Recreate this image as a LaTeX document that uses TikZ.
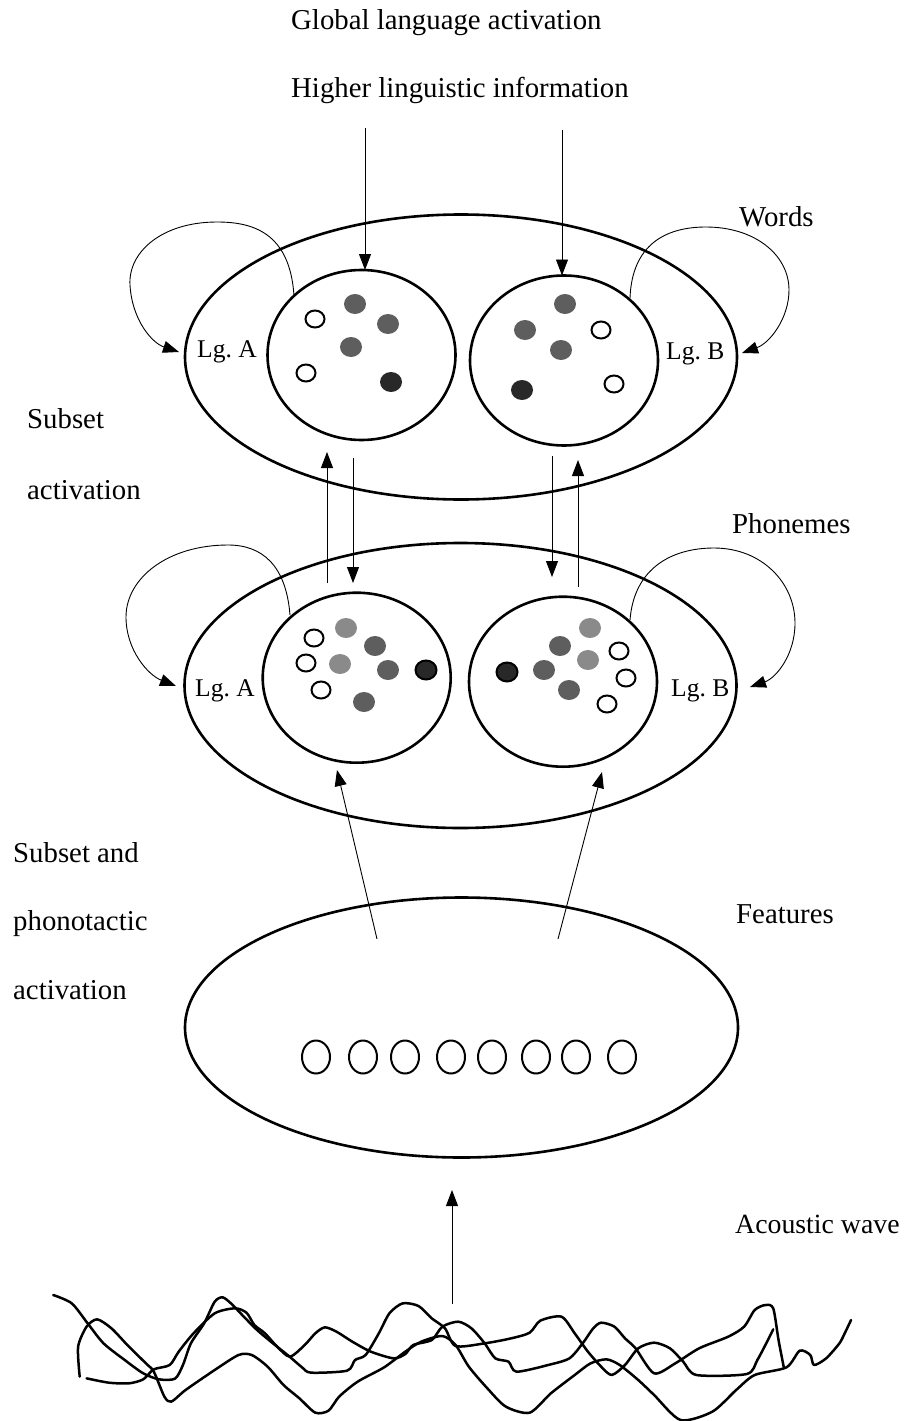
\documentclass[tikz,border=0pt]{standalone}
\usepackage{fontspec}
\setmainfont{Liberation Serif}
\usetikzlibrary{arrows.meta,shapes.geometric}

\begin{document}
\begin{tikzpicture}[x=1pt,y=-1pt,
  layer/.style={draw, ellipse, line width=2.6pt, inner sep=0pt, outer sep=0pt,
                minimum width=552pt, minimum height=285pt},
  pool/.style={draw, ellipse, line width=2.6pt, inner sep=0pt, outer sep=0pt,
               minimum width=188pt, minimum height=170pt},
  unitw/.style={draw, fill=white, ellipse, line width=2pt, inner sep=0pt,
                minimum width=19pt, minimum height=17pt},
  unitm/.style={fill=midgray, ellipse, inner sep=0pt, minimum width=22pt, minimum height=20pt},
  unitl/.style={fill=lightgray2, ellipse, inner sep=0pt, minimum width=22pt, minimum height=20pt},
  unitk/.style={fill=darkgray2, ellipse, inner sep=0pt, minimum width=22pt, minimum height=20pt},
  unito/.style={draw, fill=darkgray2, line width=2pt, ellipse, inner sep=0pt,
                minimum width=21pt, minimum height=19pt},
  featunit/.style={draw, ellipse, line width=2pt, inner sep=0pt,
                   minimum width=28pt, minimum height=33pt},
  arr/.style={-{Triangle[length=16pt,width=12pt]}, line width=0.9pt},
  loopline/.style={-{Triangle[length=16pt,width=12pt]}, line width=0.9pt},
  lab/.style={font=\fontsize{28.8}{34}\selectfont, anchor=base west, inner sep=0pt},
  lg/.style={font=\fontsize{25.5}{30}\selectfont, anchor=base west, inner sep=0pt},
  wave/.style={line width=2.5pt, line join=round, line cap=round},
]
\definecolor{midgray}{HTML}{5E5E5E}
\definecolor{lightgray2}{HTML}{8A8A8A}
\definecolor{darkgray2}{HTML}{282828}

\useasboundingbox (0,0) rectangle (905,1421);

% ---- labels ----
\node[lab] (glob)  at (291,30)  {Global language activation};
\node[lab] (high)  at (291,97)  {Higher linguistic information};
\node[lab] (wlab)  at (739,226) {Words};
\node[lab] (sub1)  at (27,428)  {Subset};
\node[lab] (sub2)  at (27,499)  {activation};
\node[lab] (plab)  at (732,533) {Phonemes};
\node[lab] (sa1)   at (13,862)  {Subset and};
\node[lab] (sa2)   at (13,930)  {phonotactic};
\node[lab] (sa3)   at (13,999)  {activation};
\node[lab] (flab)  at (736,923) {Features};
\node[lab, font=\fontsize{27.8}{34}\selectfont] (alab) at (735,1233) {Acoustic wave};

% ---- word level ----
\node[layer] (words) at (461,357) {};
\node[pool]  (wA) at (361.5,355) {};
\node[pool]  (wB) at (564,360.5) {};
\node[lg] (wlgA) at (197,357) {Lg.\ A};
\node[lg] (wlgB) at (666,359) {Lg.\ B};

\foreach \n/\s/\x/\y in {1/unitw/315/319, 2/unitm/355/304, 3/unitm/388/324,
                         4/unitm/351/347, 5/unitw/306/373, 6/unitk/391/382}
  \node[\s] (wa\n) at (\x,\y) {};
\foreach \n/\s/\x/\y in {1/unitm/565/304, 2/unitm/525/330, 3/unitw/601/330,
                         4/unitm/561/350, 5/unitk/522/390, 6/unitw/614/384}
  \node[\s] (wb\n) at (\x,\y) {};

% ---- phoneme level ----
\node[layer] (phon) at (460.5,685.5) {};
\node[pool]  (pA) at (356.7,677.7) {};
\node[pool]  (pB) at (563,681.7) {};
\node[lg] (plgA) at (195,696) {Lg.\ A};
\node[lg] (plgB) at (671,696) {Lg.\ B};

\foreach \n/\s/\x/\y in {1/unitw/314/638, 2/unitl/346/628, 3/unitm/375/646,
                         4/unitw/306/663, 5/unitl/340/664, 6/unitm/388/670,
                         7/unito/426/670, 8/unitw/321/690, 9/unitm/364/702}
  \node[\s] (pa\n) at (\x,\y) {};
\foreach \n/\s/\x/\y in {1/unitl/590/628, 2/unitm/560/646, 3/unitw/619/651,
                         4/unitl/588/660, 5/unito/507/672, 6/unitm/544/670,
                         7/unitw/626/678, 8/unitm/569/690, 9/unitw/607/704}
  \node[\s] (pb\n) at (\x,\y) {};

% ---- feature level ----
\node[layer, minimum width=553pt, minimum height=260pt] (feat) at (461.5,1027.5) {};
\foreach \n/\x in {1/316, 2/363, 3/405, 4/451, 5/492, 6/536, 7/576, 8/622}
  \node[featunit] (f\n) at (\x,1057) {};

% ---- top-down input ----
\coordinate (srcA) at (365,128);
\coordinate (srcB) at (562,130);
\draw[arr] (srcA) -- (srcA |- wA.north);
\draw[arr] (srcB) -- (srcB |- wB.north);

% ---- word <-> phoneme connections ----
\coordinate (upA0) at (327,583);  \coordinate (upA1) at (327,452);
\coordinate (dnA0) at (353,458);  \coordinate (dnA1) at (353,583);
\coordinate (dnB0) at (552,456);  \coordinate (dnB1) at (552,577);
\coordinate (upB0) at (578,587);  \coordinate (upB1) at (578,460);
\draw[arr] (upA0) -- (upA1);
\draw[arr] (dnA0) -- (dnA1);
\draw[arr] (dnB0) -- (dnB1);
\draw[arr] (upB0) -- (upB1);

% ---- feature -> phoneme connections ----
\coordinate (fA0) at (377,939);  \coordinate (fA1) at (337,770);
\coordinate (fB0) at (558,939);  \coordinate (fB1) at (602,772);
\draw[arr] (fA0) -- (fA1);
\draw[arr] (fB0) -- (fB1);

% ---- acoustic input ----
\coordinate (ac0) at (452,1304);  \coordinate (ac1) at (452,1190);
\draw[arr] (ac0) -- (ac1);

% ---- lateral loops ----
\coordinate (wlA0) at (294,296);  \coordinate (wlA1) at (179,352);
\coordinate (wlB0) at (630,298);  \coordinate (wlB1) at (742,353);
\coordinate (plA0) at (290,615);  \coordinate (plA1) at (176,686);
\coordinate (plB0) at (630,620);  \coordinate (plB1) at (750,687);
\draw[loopline] (wlA0) .. controls (290,232) and (252,222) .. (217,222)
   .. controls (162,222) and (128,252) .. (130,285)
   .. controls (132,320) and (152,343) .. (wlA1);
\draw[loopline] (wlB0) .. controls (632,245) and (665,227) .. (706,227)
   .. controls (755,227) and (789,255) .. (789,290)
   .. controls (789,318) and (770,343) .. (wlB1);
\draw[loopline] (plA0) .. controls (286,565) and (262,545) .. (228,545)
   .. controls (168,545) and (126,578) .. (126,617)
   .. controls (126,650) and (148,675) .. (plA1);
\draw[loopline] (plB0) .. controls (634,568) and (672,548) .. (714,548)
   .. controls (762,548) and (795,583) .. (795,623)
   .. controls (795,655) and (776,678) .. (plB1);

% ---- acoustic wave ----
\begin{scope}[shift={(40,1280)}, xscale=0.5294, yscale=0.3333]
\draw[wave] plot[smooth, tension=0.45] coordinates {
 (25,45) (60,70) (90,130) (120,190) (160,240) (195,280) (225,298) (255,296)
 (270,255) (285,190) (310,130) (330,65) (345,52) (362,72) (385,110) (410,150)
 (440,190) (470,228) (495,262) (512,278) (580,272) (595,240) (615,225) (640,160)
 (660,100) (685,70) (715,78) (740,115) (765,145) (785,198) (840,190) (890,175)
 (925,158) (945,122) (985,110) (1010,160) (1035,215) (1060,260) (1080,285)
 (1105,255) (1130,205) (1160,188) (1190,205) (1215,245) (1240,285) (1335,282)
 (1355,240) (1375,180) (1385,148)};
\draw[wave] plot[smooth, tension=0.45] coordinates {
 (75,290) (72,200) (88,140) (108,118) (135,145) (165,195) (200,250) (215,275)
 (235,350) (248,365) (275,330) (330,270) (375,225) (400,225) (430,260) (460,315)
 (490,355) (520,398) (545,392) (565,350) (600,305) (650,262) (690,215) (720,185)
 (760,168) (785,195) (810,260) (845,325) (880,380) (925,398) (965,340) (1010,285)
 (1040,250) (1070,238) (1095,255) (1130,300) (1160,345) (1210,420) (1270,395)
 (1315,330) (1350,285) (1410,262) (1435,212) (1455,225) (1462,255) (1485,235)
 (1510,190) (1520,160) (1532,120)};
\draw[wave] plot[smooth, tension=0.45] coordinates {
 (88,295) (130,308) (168,310) (195,298) (215,268) (245,255) (262,215) (290,160)
 (330,100) (368,85) (390,98) (405,135) (425,160) (448,200) (472,230) (500,195)
 (520,160) (538,142) (560,155) (590,185) (625,215) (668,235) (690,222) (705,195)
 (740,180) (760,140) (790,125) (815,145) (840,190) (860,235) (885,245) (900,275)
 (960,255) (1000,235) (1025,190) (1045,145) (1060,128) (1085,140) (1105,175)
 (1125,205) (1160,280) (1200,250) (1245,205) (1300,170) (1330,140) (1350,90)
 (1370,75) (1385,85) (1395,180) (1405,262)};
\end{scope}
\end{tikzpicture}
\end{document}
